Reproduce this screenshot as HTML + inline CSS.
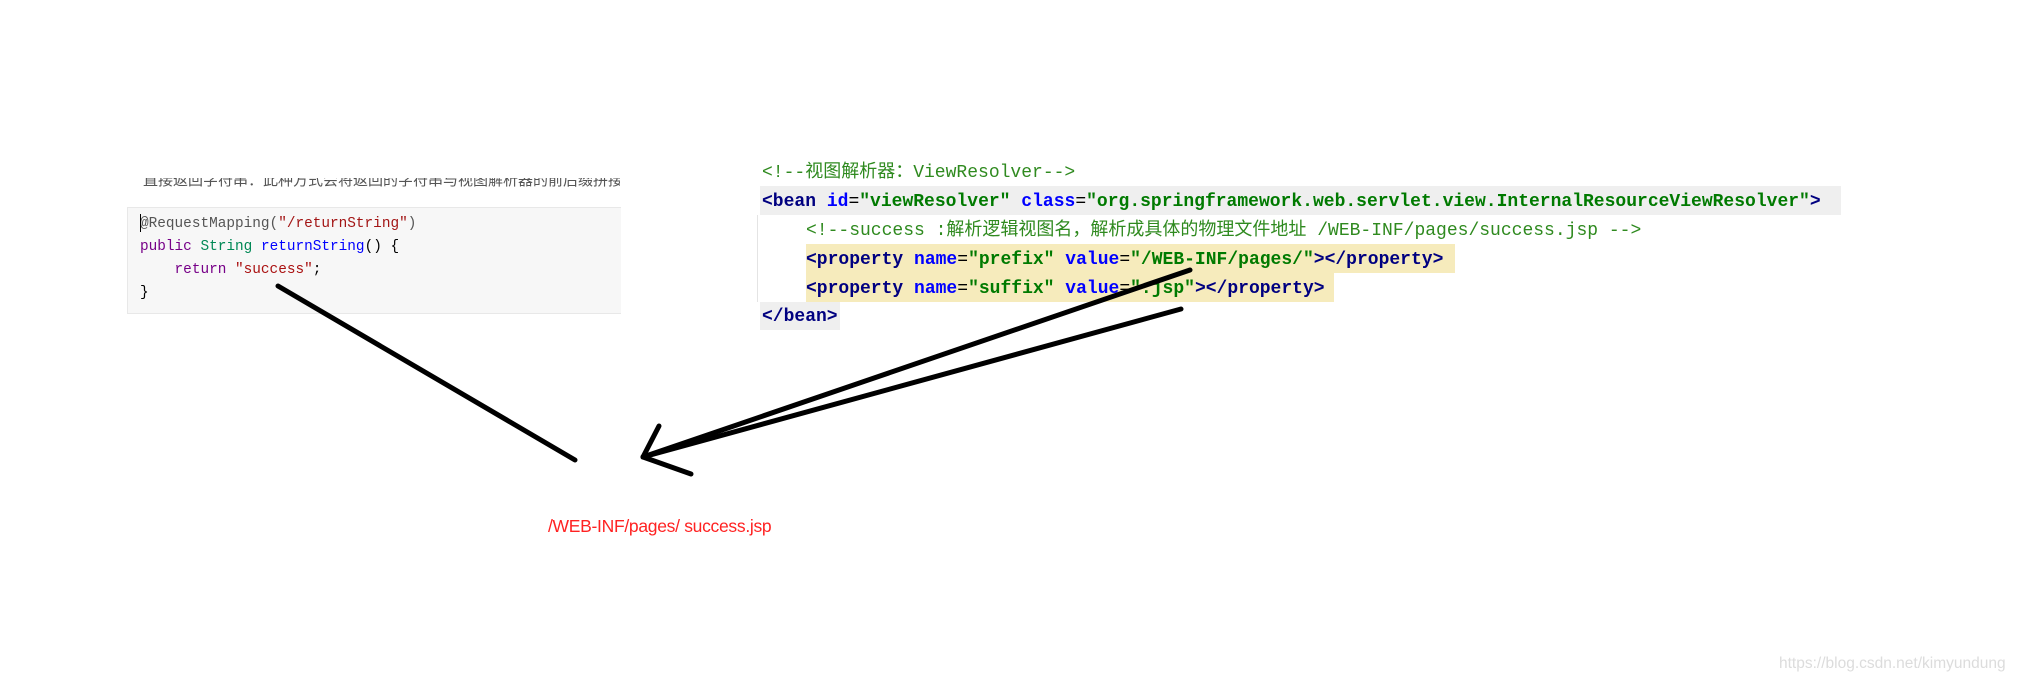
<!DOCTYPE html>
<html><head><meta charset="utf-8"><style>
body{margin:0;width:2018px;height:682px;background:#fff;position:relative;overflow:hidden}
.a{position:absolute;white-space:pre}
.m{font-family:"Liberation Mono","Noto Sans CJK SC",monospace}
.x{font-size:18px;line-height:29px;height:29px}
.c{color:#2f8a1f}.t{color:#000080;font-weight:bold}.n{color:#0000ff;font-weight:bold}.v{color:#007a00;font-weight:bold}
.j{font-size:14.4px;line-height:23px}
</style></head><body>
<div class="a" style="left:143px;top:178px;width:477px;height:10px;overflow:hidden;"><div style="margin-top:-9px;font:15px 'Liberation Sans','Noto Sans CJK SC',sans-serif;color:#555">直接返回字符串：此种方式会将返回的字符串与视图解析器的前后缀拼接后跳转页面</div></div>
<div class="a" style="left:127px;top:207px;width:493px;height:105px;background:#f7f7f7;border:1px solid #e8e8e8;border-right:none"></div>
<div class="a m j" style="left:140px;top:213px"><span style="color:#555">@RequestMapping(</span><span style="color:#a31515">"/returnString"</span><span style="color:#555">)</span>
<span style="color:#770088">public</span> <span style="color:#008855">String</span> <span style="color:#0000ff">returnString</span>() {
    <span style="color:#770088">return</span> <span style="color:#aa1111">"success"</span>;
}</div>
<div class="a" style="left:140px;top:214px;width:1px;height:18px;background:#000"></div>

<div class="a" style="left:757px;top:215px;width:1px;height:87px;background:#e4e4e4"></div>
<div class="a" style="left:760px;top:186px;width:1081px;height:29px;background:#efefef"></div>
<div class="a" style="left:806px;top:244px;width:649px;height:29px;background:#f6ebbc"></div>
<div class="a" style="left:806px;top:273px;width:528px;height:29px;background:#f6ebbc"></div>
<div class="a" style="left:760px;top:302px;width:80px;height:28px;background:#efefef"></div>
<div class="a m x c" style="left:762px;top:159px">&lt;!--视图解析器：ViewResolver--&gt;</div>
<div class="a m x" style="left:762px;top:188px"><span class="t">&lt;bean</span> <span class="n">id</span>=<span class="v">"viewResolver"</span> <span class="n">class</span>=<span class="v">"org.springframework.web.servlet.view.InternalResourceViewResolver"</span><span class="t">&gt;</span></div>
<div class="a m x c" style="left:806px;top:217px">&lt;!--success :解析逻辑视图名，解析成具体的物理文件地址 /WEB-INF/pages/success.jsp --&gt;</div>
<div class="a m x" style="left:806px;top:246px"><span class="t">&lt;property</span> <span class="n">name</span>=<span class="v">"prefix"</span> <span class="n">value</span>=<span class="v">"/WEB-INF/pages/"</span><span class="t">&gt;&lt;/property&gt;</span></div>
<div class="a m x" style="left:806px;top:275px"><span class="t">&lt;property</span> <span class="n">name</span>=<span class="v">"suffix"</span> <span class="n">value</span>=<span class="v">".jsp"</span><span class="t">&gt;&lt;/property&gt;</span></div>
<div class="a m x t" style="left:762px;top:303px">&lt;/bean&gt;</div>

<svg class="a" style="left:0;top:0" width="2018" height="682">
<g stroke="#000" stroke-width="5" stroke-linecap="round" fill="none">
<line x1="278" y1="286" x2="575" y2="460"/>
<line x1="643" y1="457" x2="1190" y2="270"/>
<line x1="643" y1="457" x2="1181" y2="309"/>
<line x1="643" y1="457" x2="659" y2="426"/>
<line x1="643" y1="457" x2="691" y2="474"/>
</g></svg>
<div class="a" style="left:548px;top:516px;font:17.5px 'Liberation Sans',sans-serif;color:#ff2222;letter-spacing:-0.3px">/WEB-INF/pages/ success.jsp</div>
<div class="a" style="left:1779px;top:655px;font:15.5px 'Liberation Sans',sans-serif;color:#dcdcdc">https://blog.csdn.net/kimyundung</div>
</body></html>
